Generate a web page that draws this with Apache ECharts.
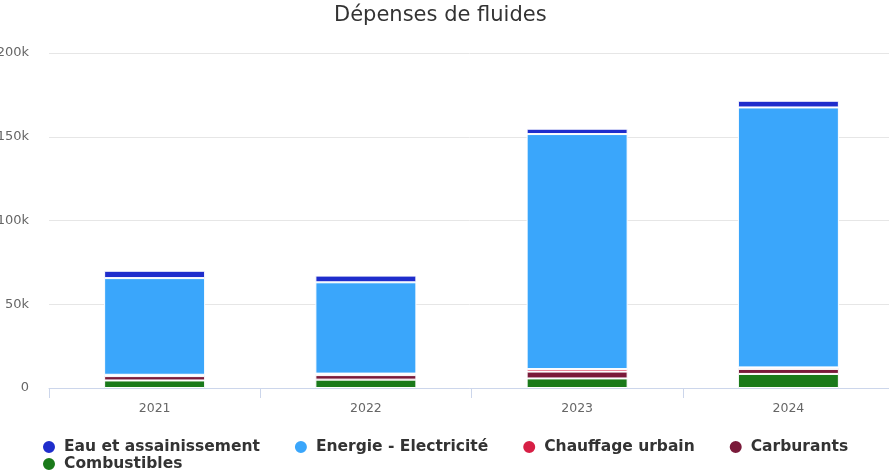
<!DOCTYPE html>
<html>
<head>
<meta charset="utf-8">
<script src="https://cdn.jsdelivr.net/npm/echarts@6/dist/echarts.min.js"></script>
<style>
html,body{margin:0;padding:0;background:#fff;}
#chart{width:889px;height:473px;}
</style>
</head>
<body>
<div id="chart"></div>
<script>
var categories = ['2021', '2022', '2023', '2024'];
var eau = [4400, 4000, 3200, 4000];
var energie = [57700, 54500, 140300, 155200];
var chauffage = [800, 900, 1500, 900];
var carburants = [2600, 2700, 4100, 3000];
var combustibles = [4500, 5000, 5700, 8400];
var yTicks = [0, 50000, 100000, 150000, 200000];

var names = ['Eau et assainissement', 'Energie - Electricité', 'Chauffage urbain', 'Carburants', 'Combustibles'];
var colors = ['#1f2dcc', '#3aa6fb', '#d71f45', '#7a1a3a', '#1a7a1a'];
var dataSets = [eau, energie, chauffage, carburants, combustibles];

// stack order: Combustibles at the bottom, Eau on top
var order = [4, 3, 2, 1, 0];
var series = order.map(function (i) {
  return {
    name: names[i],
    type: 'bar',
    stack: 'total',
    barWidth: 101,
    data: dataSets[i],
    itemStyle: { color: colors[i], borderColor: '#ffffff', borderWidth: 1 },
    emphasis: { disabled: true }
  };
});

var legendText = { fontFamily: 'DejaVu Sans', fontWeight: 'bold', fontSize: 15.5, color: '#333333', padding: [0, 0, 0, 3] };

var chart = echarts.init(document.getElementById('chart'), null, { renderer: 'canvas' });
chart.setOption({
  animation: false,
  color: colors,
  title: {
    text: 'Dépenses de fluides',
    left: 334,
    top: 5,
    padding: 0,
    textStyle: { fontFamily: 'DejaVu Sans', fontSize: 21, fontWeight: 'normal', color: '#333333' }
  },
  legend: [{
    data: names.slice(0, 4),
    left: 41,
    top: 439,
    padding: 0,
    icon: 'circle',
    itemWidth: 14,
    itemHeight: 14,
    itemGap: 33,
    textStyle: legendText
  }, {
    data: [names[4]],
    left: 41,
    top: 456,
    padding: 0,
    icon: 'circle',
    itemWidth: 14,
    itemHeight: 14,
    itemGap: 33,
    textStyle: legendText
  }],
  grid: { left: 49, width: 845, top: 53, bottom: 85, containLabel: false, outerBoundsMode: 'none' },
  xAxis: {
    type: 'category',
    data: categories,
    axisLine: { lineStyle: { color: '#ccd6eb' } },
    axisTick: { show: true, length: 10, lineStyle: { color: '#ccd6eb' } },
    axisLabel: { color: '#666666', fontSize: 12.5, fontFamily: 'DejaVu Sans', margin: 14 }
  },
  yAxis: {
    type: 'value',
    min: yTicks[0],
    max: yTicks[yTicks.length - 1],
    interval: yTicks[1] - yTicks[0],
    axisLine: { show: false },
    axisTick: { show: false },
    splitLine: { lineStyle: { color: '#e6e6e6' } },
    axisLabel: {
      color: '#666666', fontSize: 13, fontFamily: 'DejaVu Sans', margin: 20,
      formatter: function (v) { return v === 0 ? '0' : (v / 1000) + 'k'; }
    }
  },
  series: series
});
</script>
</body>
</html>
